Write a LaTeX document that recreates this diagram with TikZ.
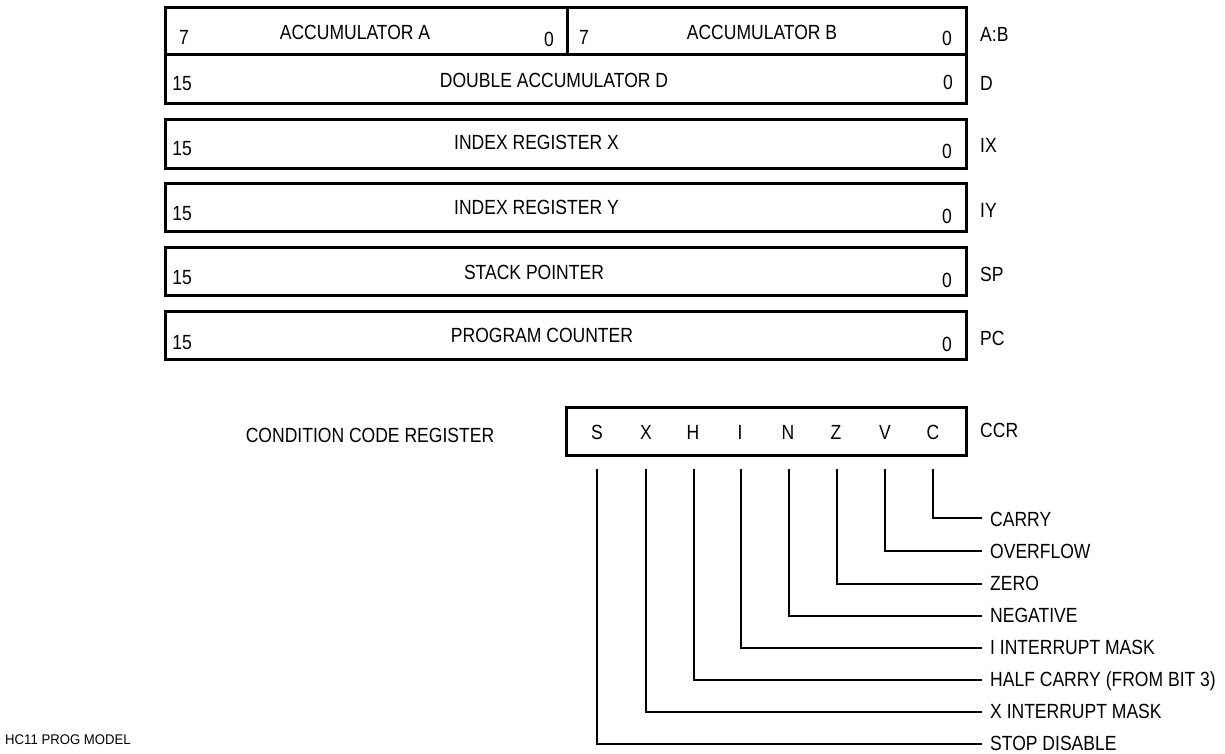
\documentclass[tikz,border=0pt]{standalone}
\usepackage{fontspec}
\setmainfont{Liberation Sans}[FakeStretch=0.855]
\newfontfamily\footfont{Liberation Sans}[FakeStretch=0.94]
\begin{document}
\begin{tikzpicture}[x=1pt,y=-1pt,
  lbl/.style={inner sep=0pt, font=\fontsize{20.5}{23}\selectfont, text height=14.7pt, text depth=0pt},
  small/.style={inner sep=0pt, font=\footfont\fontsize{14}{16}\selectfont, text height=10pt, text depth=0pt},
  regbox/.style={draw, line width=2.5pt, inner sep=0pt, anchor=north west},
  wire/.style={line width=2.4pt}]
\useasboundingbox (0,0) rectangle (1225,753);
% register boxes
\node[regbox, minimum width=402pt, minimum height=47pt] (ra) at (164,6) {};
\node[regbox, minimum width=399pt, minimum height=47pt] (rb) at (566,6) {};
\node[regbox, minimum width=801pt, minimum height=49pt] (rd) at (164,53) {};
\node[regbox, minimum width=801pt, minimum height=49pt] (rx) at (164,118) {};
\node[regbox, minimum width=801pt, minimum height=48pt] (ry) at (164,182) {};
\node[regbox, minimum width=801pt, minimum height=48pt] (rs) at (164,246) {};
\node[regbox, minimum width=801pt, minimum height=48pt] (rp) at (164,310) {};
% A:B
\node[lbl] (a7) at (184,37) {7};
\node[lbl] (at) at (355,32) {ACCUMULATOR A};
\node[lbl] (a0) at (549,39) {0};
\node[lbl] (b7) at (584,37.5) {7};
\node[lbl] (bt) at (762,32.5) {ACCUMULATOR B};
\node[lbl] (b0) at (947,38.5) {0};
\node[lbl, anchor=west] (abl) at (980,34) {A:B};
% D
\node[lbl] (d15) at (182,83) {15};
\node[lbl] (dt) at (554,80) {DOUBLE ACCUMULATOR D};
\node[lbl] (d0) at (948,82) {0};
\node[lbl, anchor=west] (dl) at (980,83) {D};
% IX
\node[lbl] (x15) at (182,148) {15};
\node[lbl] (xt) at (536.5,142.5) {INDEX REGISTER X};
\node[lbl] (x0) at (947,151) {0};
\node[lbl, anchor=west] (xl) at (980,145) {IX};
% IY
\node[lbl] (y15) at (182,213.5) {15};
\node[lbl] (yt) at (536.5,207.5) {INDEX REGISTER Y};
\node[lbl] (y0) at (947,216) {0};
\node[lbl, anchor=west] (yl) at (980,210) {IY};
% SP
\node[lbl] (s15) at (182,277) {15};
\node[lbl] (st) at (534,272.5) {STACK POINTER};
\node[lbl] (s0) at (947,280) {0};
\node[lbl, anchor=west] (sl) at (980,274) {SP};
% PC
\node[lbl] (p15) at (182,342) {15};
\node[lbl] (pt) at (542,335.5) {PROGRAM COUNTER};
\node[lbl] (p0) at (947,344) {0};
\node[lbl, anchor=west] (pl) at (980,338) {PC};
% CCR
\node[lbl] (cct) at (370,435.5) {CONDITION CODE REGISTER};
\node[regbox, minimum width=400pt, minimum height=48pt] (ccr) at (565,406) {};
\node[lbl, anchor=west] (ccrl) at (980,430) {CCR};
\node[lbl] (bS) at (597,432.5) {S};
\node[lbl] (bX) at (646,432.5) {X};
\node[lbl] (bH) at (693,432.5) {H};
\node[lbl] (bI) at (740,432.5) {I};
\node[lbl] (bN) at (788,432.5) {N};
\node[lbl] (bZ) at (836,432.5) {Z};
\node[lbl] (bV) at (885,432.5) {V};
\node[lbl] (bC) at (933,432.5) {C};
% line tops
\coordinate (tS) at (597,469);
\coordinate (tX) at (646,469);
\coordinate (tH) at (694,469);
\coordinate (tI) at (741,469);
\coordinate (tN) at (789,469);
\coordinate (tZ) at (837,469);
\coordinate (tV) at (885,469);
\coordinate (tC) at (933,469);
% flag labels
\node[lbl, anchor=west] (lC) at (990,519) {CARRY};
\node[lbl, anchor=west] (lV) at (990,551) {OVERFLOW};
\node[lbl, anchor=west] (lZ) at (990,583) {ZERO};
\node[lbl, anchor=west] (lN) at (990,615) {NEGATIVE};
\node[lbl, anchor=west] (lI) at (990,647) {I INTERRUPT MASK};
\node[lbl, anchor=west] (lH) at (990,679) {HALF CARRY (FROM BIT 3)};
\node[lbl, anchor=west] (lX) at (990,711) {X INTERRUPT MASK};
\node[lbl, anchor=west] (lS) at (990,743) {STOP DISABLE};
% wires
\draw[wire] (tC) |- ([xshift=-8pt,yshift=1pt]lC.west);
\draw[wire] (tV) |- ([xshift=-8pt]lV.west);
\draw[wire] (tZ) |- ([xshift=-8pt,yshift=-1pt]lZ.west);
\draw[wire] (tN) |- ([xshift=-8pt,yshift=-1pt]lN.west);
\draw[wire] (tI) |- ([xshift=-8pt,yshift=-1pt]lI.west);
\draw[wire] (tH) |- ([xshift=-8pt,yshift=-1pt]lH.west);
\draw[wire] (tX) |- ([xshift=-8pt,yshift=-1pt]lX.west);
\draw[wire] (tS) |- ([xshift=-8pt,yshift=-1pt]lS.west);
% footer
\node[small, anchor=west] (foot) at (5,739.5) {HC11 PROG MODEL};
\end{tikzpicture}
\end{document}
